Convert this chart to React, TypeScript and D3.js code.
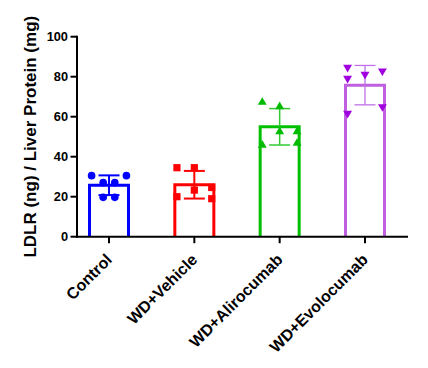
import React from "react";
import * as d3 from "d3";

const categories = ["Control", "WD+Vehicle", "WD+Alirocumab", "WD+Evolocumab"];
const controlValues = [30.5, 30.5, 27, 27, 19.7, 19.7];
const controlSlots = [-1.5, 1.5, -0.5, 0.5, -0.5, 0.5];
const vehicleValues = [34.5, 34.5, 23.3, 20, 24.6, 19];
const vehicleSlots = [-1.5, 0, 0, -1.5, 1.5, 1.5];
const alirocumabValues = [67.2, 65, 52.5, 52.5, 45.8, 46.7];
const alirocumabSlots = [-1.5, 0, 0, 1.5, -1.5, 1.5];
const evolocumabValues = [84.7, 79.2, 81.2, 82.85, 61.7, 65];
const evolocumabSlots = [-1.5, -1.5, 0, 1.5, -1.5, 1.5];
const yTicks = [0, 20, 40, 60, 80, 100];
const yLabel = "LDLR (ng) / Liver Protein (mg)";

const groups = [
  { values: controlValues, slots: controlSlots, bar: "#0000FF", mark: "#0000FF", err: "#0000FF", errW: 2, symbol: d3.symbolCircle, size: 46, rot: 0 },
  { values: vehicleValues, slots: vehicleSlots, bar: "#FF0000", mark: "#FF0000", err: "#FF0000", errW: 2, symbol: d3.symbolSquare, size: 52, rot: 0 },
  { values: alirocumabValues, slots: alirocumabSlots, bar: "#00C000", mark: "#00BB00", err: "#33C833", errW: 1.5, symbol: d3.symbolTriangle, size: 34, rot: 0 },
  { values: evolocumabValues, slots: evolocumabSlots, bar: "#C060E0", mark: "#A000E0", err: "#C070E8", errW: 1.3, symbol: d3.symbolTriangle, size: 34, rot: 180 },
];

const W = 428, H = 368;
const FONT = "'Liberation Sans', Arial, sans-serif";

export default function App() {
  const y = d3.scaleLinear().domain([0, 100]).range([236.7, 36.7]);
  const x = d3.scalePoint<string>().domain(categories).range([109, 365]);
  const axisX = 77;
  const axisEnd = 408;
  const barW = 39;
  const capW = 21;
  const slotStep = 11.6;

  return (
    <svg width={W} height={H} style={{ position: "absolute", left: 0, top: 0, background: "#fff" }}>
      {groups.map((g, i) => {
        const cx = x(categories[i])!;
        const m = d3.mean(g.values)!;
        const sd = d3.deviation(g.values)!;
        const x0 = cx - barW / 2, x1 = cx + barW / 2;
        const sym = d3.symbol().type(g.symbol).size(g.size)()!;
        return (
          <g key={i}>
            <path d={`M${x0},${y(0)} L${x0},${y(m)} L${x1},${y(m)} L${x1},${y(0)}`} fill="none" stroke={g.bar} strokeWidth={3} />
            <g stroke={g.err} strokeWidth={g.errW} fill="none">
              <line x1={cx} x2={cx} y1={y(m + sd)} y2={y(m - sd)} />
              <line x1={cx - capW / 2} x2={cx + capW / 2} y1={y(m + sd)} y2={y(m + sd)} />
              <line x1={cx - capW / 2} x2={cx + capW / 2} y1={y(m - sd)} y2={y(m - sd)} />
            </g>
            {g.values.map((v, j) => (
              <path key={j} d={sym} fill={g.mark}
                transform={`translate(${cx + g.slots[j] * slotStep},${y(v)}) rotate(${g.rot})`} />
            ))}
          </g>
        );
      })}
      {/* y axis */}
      <line x1={axisX} x2={axisX} y1={y(100) - 1} y2={y(0) + 1} stroke="#000" strokeWidth={2} />
      {yTicks.map((t) => (
        <g key={t}>
          <line x1={axisX - 6.5} x2={axisX} y1={y(t)} y2={y(t)} stroke="#000" strokeWidth={2} />
          <text x={68} y={y(t)} dy="0.36em" textAnchor="end" fontFamily={FONT} fontWeight="bold" fontSize={12.8} fill="#000">{t}</text>
        </g>
      ))}
      {/* x axis */}
      <line x1={axisX - 1} x2={axisEnd} y1={y(0)} y2={y(0)} stroke="#000" strokeWidth={2} />
      {categories.map((c) => (
        <g key={c}>
          <line x1={x(c)!} x2={x(c)!} y1={y(0)} y2={y(0) + 6.5} stroke="#000" strokeWidth={2} />
          <text transform={`translate(${x(c)! + 4},260.7) rotate(-45)`} textAnchor="end" fontFamily={FONT} fontWeight="bold" fontSize={16} fill="#000">{c}</text>
        </g>
      ))}
      <text transform={`translate(35.5,${(y(0) + y(100)) / 2}) rotate(-90)`} textAnchor="middle" fontFamily={FONT} fontWeight="bold" fontSize={17} fill="#000">{yLabel}</text>
    </svg>
  );
}
